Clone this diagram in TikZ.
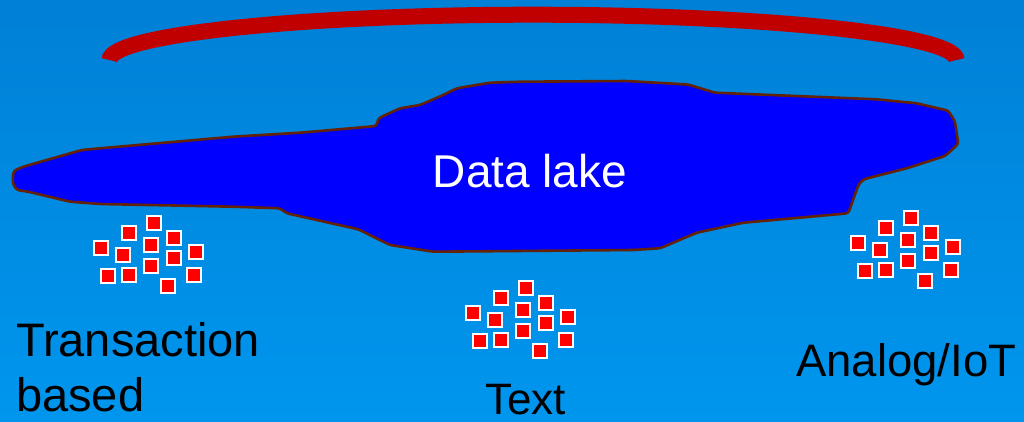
\documentclass[tikz,border=0pt]{standalone}
\usepackage{fontspec}
\setmainfont{Liberation Sans}
\definecolor{bgtop}{RGB}{0,128,214}
\definecolor{bgbot}{RGB}{0,150,238}
\definecolor{arcred}{RGB}{192,0,0}
\definecolor{lakeblue}{RGB}{0,0,255}
\definecolor{lakeedge}{RGB}{100,34,8}
\definecolor{sqred}{RGB}{255,0,0}
\tikzset{
  sq/.style={draw=white, fill=sqred, line width=2pt, minimum size=14pt, inner sep=0pt, rectangle},
  lbl/.style={inner sep=0pt, text=black},
}
\begin{document}
\begin{tikzpicture}[x=1pt,y=-1pt]
\useasboundingbox (0,0) rectangle (1024,421);
\fill[top color=bgtop, bottom color=bgbot] (0,0) rectangle (1024,421);
% arc
\draw[arcred, line width=16pt, line cap=butt] (109.5,60) arc[start angle=180, end angle=0, x radius=423.5pt, y radius=45.3pt];
% lake
\draw[lakeedge, fill=lakeblue, line width=2.6pt, rounded corners=3pt]
 (13.3,171) -- (23.3,166.7) -- (81.7,150) -- (100,148.3) -- (233,136.7) -- (300,132.7)
 -- (376.7,126) -- (378.3,118.3) -- (400,108.3) -- (420,105) -- (443.3,95) -- (456.7,88.3)
 -- (490,82.7) -- (520,81.7) -- (626.7,81) -- (688,84.5) -- (715,92.7) -- (876.7,99.3)
 -- (916.7,103.3) -- (948.3,110.7) -- (955,121.7) -- (958.3,144) -- (945,156) -- (906.7,168.3)
 -- (863.3,179.3) -- (858.3,185) -- (848.3,213.3) -- (743.3,222.7) -- (696.7,232.7) -- (660,248.3)
 -- (633,250) -- (433.3,251.7) -- (390,245) -- (358.3,229.3) -- (286.7,213.3) -- (280,208.3)
 -- (233,206.7) -- (100,204) -- (70,201.7) -- (28.3,191.7) -- (16.7,190) -- (12.7,183.3) -- cycle;
\node[inner sep=0pt, text=white, font=\fontsize{46}{50}\selectfont, anchor=base] (lake) at (530,187.3) {Data lake};
% clusters
\foreach \cx/\cy/\cn in {154/223.3/a, 526/288.3/b, 911/218.3/c}{
  \foreach \dx/\dy [count=\i] in {0/0, -24.7/9.4, -53.3/24.4, -3.3/21.7, 20.3/15, -31.3/31.7, 42/28.4, 20.3/35, -46.3/52.4, -24.7/51.7, -3.3/42.7, 40.3/51.7, 13.7/62.7}{
    \node[sq] (\cn\i) at (\cx+\dx,\cy+\dy) {};
  }
}
% labels
\node[lbl, anchor=base west, align=left, font=\fontsize{47}{55}\selectfont] (trans) at (16,411.7) {Transaction\\based};
\node[lbl, anchor=base, font=\fontsize{44}{50}\selectfont] (text) at (525.5,414.5) {Text};
\node[lbl, anchor=base west, font=\fontsize{45.5}{50}\selectfont] (analog) at (796,376.7) {Analog/IoT};
\end{tikzpicture}
\end{document}
